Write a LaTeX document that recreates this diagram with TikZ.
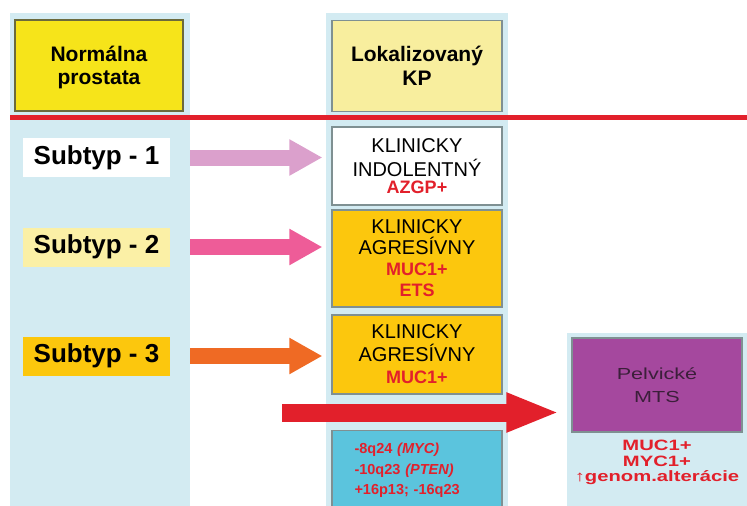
\documentclass[tikz,border=0pt]{standalone}
\usepackage{fontspec}
\setmainfont{Liberation Sans}
\newfontfamily\widesans[FakeStretch=1.35]{Liberation Sans}
\usetikzlibrary{arrows.meta,positioning,calc}
\usepackage{xcolor}
\definecolor{kpSky}{HTML}{D3EBF2}
\definecolor{kpYellow}{HTML}{F6E41A}
\definecolor{kpPale}{HTML}{F8EE9E}
\definecolor{kpCream}{HTML}{FBF0A6}
\definecolor{kpGold}{HTML}{FCC70D}
\definecolor{kpOrchid}{HTML}{DBA0CC}
\definecolor{kpPink}{HTML}{EE5C98}
\definecolor{kpOrange}{HTML}{EF6A24}
\definecolor{kpRed}{HTML}{E2202B}
\definecolor{kpCyan}{HTML}{5BC4DD}
\definecolor{kpPurple}{HTML}{A5489E}
\definecolor{kpPlum}{HTML}{3B1F3A}
\definecolor{kpGrey}{HTML}{7F9092}
\definecolor{kpOlive}{HTML}{6B6A3C}
\newcommand\redmk[1]{{\color{kpRed}\bfseries\fontsize{18}{22}\selectfont #1}}
\tikzset{
  bgcol/.style={fill=kpSky, draw=none, inner sep=0pt, anchor=north west},
  hdr/.style={draw=kpOlive, line width=1.2pt, minimum width=168pt, minimum height=91pt, inner sep=0pt, text depth=0pt, font=\fontsize{21}{23.5}\selectfont\bfseries, align=center},
  kbox/.style={draw=kpGrey, line width=1.2pt, minimum width=170pt, inner sep=0pt, font=\fontsize{20}{24}\selectfont, align=center},
  subbox/.style={minimum width=147pt, minimum height=39pt, inner sep=0pt, font=\fontsize{26}{28}\selectfont\bfseries},
  fatarr/.style={line width=16pt, -{Triangle[length=33pt,width=34pt]}},
  bigarr/.style={line width=18pt, kpRed, -{Triangle[length=53pt,width=36pt]}},
}
\begin{document}
\begin{tikzpicture}[x=1pt,y=-1pt]
\clip (0,0) rectangle (747,506);
% column backgrounds
\node[bgcol, minimum width=180pt, minimum height=500pt] (leftbg) at (10,13) {};
\node[bgcol, minimum width=182pt, minimum height=500pt] (midbg) at (326,13) {};
\node[bgcol, minimum width=180pt, minimum height=180pt] (rightbg) at (567,333) {};
% headers
\node[hdr, fill=kpYellow] (normal) at (99,65.5) {Normálna\\prostata};
\node[hdr, fill=kpPale, draw=kpGrey, minimum width=170pt] (lokal) at (417,66) {Lokalizovaný\\KP};
\draw[kpRed, line width=5pt] (leftbg.west |- 0,117.5) -- (747,117.5);
% subtypes
\foreach \n/\y/\c in {1/157.5/white, 2/247/kpCream, 3/356/kpGold}
  \node[subbox, fill=\c] (sub\n) at (96.5,\y) {Subtyp - \n};
% clinical boxes
\node[kbox, fill=white, minimum height=78pt] (k1) at (417,166) {KLINICKY\\INDOLENTNÝ\\[-7pt]\redmk{AZGP+}};
\node[kbox, fill=kpGold, minimum height=97pt, font=\fontsize{20}{21}\selectfont] (k2) at (417,258.5) {KLINICKY\\AGRESÍVNY\\\redmk{MUC1+}\\\redmk{ETS}};
\node[kbox, fill=kpGold, minimum height=79pt, font=\fontsize{20}{22.5}\selectfont] (k3) at (417,354.5) {KLINICKY\\AGRESÍVNY\\\redmk{MUC1+}};
\node[kbox, fill=kpCyan, anchor=north, minimum height=80pt, text width=125pt, inner xsep=22pt, align=left, text=kpRed, font=\bfseries\fontsize{14.5}{20.5}\selectfont] (gen) at (417,430) {-8q24 \textit{(MYC)}\\-10q23 \textit{(PTEN)}\\+16p13; -16q23};
% metastasis
\node[kbox, fill=kpPurple, minimum height=94pt, text=kpPlum, font=\widesans\fontsize{16}{23}\selectfont] (mts) at (657,385) {Pelvické\\MTS};
\node[anchor=north, inner sep=0pt, align=center, text=kpRed, font=\widesans\bfseries\fontsize{15}{15.5}\selectfont] (mtsmk) at (657,440) {MUC1+\\MYC1+\\{\mdseries↑}genom.alterácie};
% arrows
\foreach \n/\c in {1/kpOrchid, 2/kpPink, 3/kpOrange}
  \draw[fatarr, \c] (leftbg.east |- sub\n) -- ([xshift=-9pt]k1.west |- sub\n);
\coordinate (mtsin) at (282,412.5);
\draw[bigarr] (mtsin) -- ([xshift=-12pt]mts.west |- mtsin);
\end{tikzpicture}
\end{document}
